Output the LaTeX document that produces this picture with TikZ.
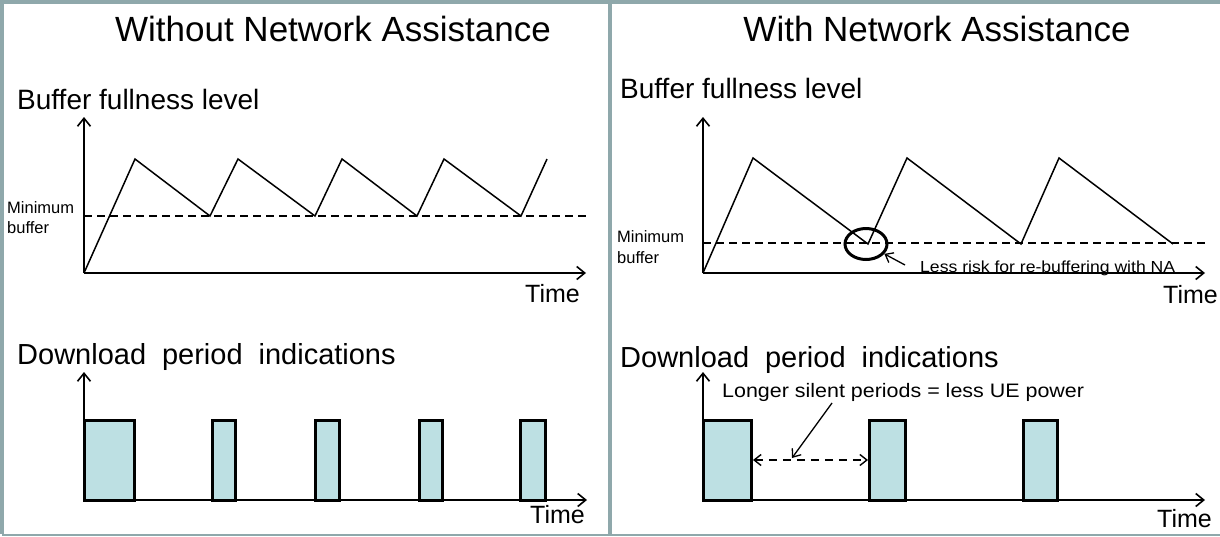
\documentclass[tikz,border=0pt]{standalone}
\usepackage{fontspec}
\setmainfont{Liberation Sans}
\newfontfamily\widesans[FakeStretch=1.1]{Liberation Sans}
\usetikzlibrary{arrows.meta,shapes.geometric}
\definecolor{framecol}{RGB}{143,168,171}
\definecolor{boxfill}{RGB}{189,224,227}
\newcommand{\widerspaces}{\spaceskip=0.55em plus 0.1em\relax}
\begin{document}
\begin{tikzpicture}[x=1pt,y=-1pt,
  txt/.style={inner sep=0pt, anchor=base west},
  titletxt/.style={inner sep=0pt, anchor=base, font=\fontsize{35}{40}\selectfont},
  head/.style={txt, font=\fontsize{28}{32}\selectfont},
  dlhead/.style={txt, font=\fontsize{29}{32}\selectfont, execute at begin node=\widerspaces},
  timelbl/.style={txt, font=\fontsize{25}{28}\selectfont},
  minlbl/.style={txt, font=\fontsize{16.5}{18}\selectfont},
  note/.style={txt, font=\widesans\fontsize{16}{18}\selectfont},
  axis/.style={line width=1.6pt, -{Straight Barb[length=8pt,width=13pt]}},
  saw/.style={line width=1.5pt, line join=miter},
  minline/.style={line width=1.5pt, dash pattern=on 8pt off 5pt},
  dlbox/.style={draw, line width=3pt, fill=boxfill, minimum height=80pt, inner sep=0pt, anchor=south},
  pointer/.style={line width=1.3pt, -{Straight Barb[length=7pt,width=11pt]}},
]
\useasboundingbox (0,0) rectangle (1220,536);
% frame
\draw[framecol, line width=3.5pt] (1224,2) -- (2,2) -- (2,534);
\draw[framecol, line width=2pt] (2,534.5) -- (1224,534.5);
\draw[framecol, line width=4pt] (610,2) -- (610,534);

% ===== Left panel =====
\node[titletxt] (tL) at (333,41) {Without Network Assistance};
\node[head] (bL) at (17,109) {Buffer fullness level};
\coordinate (oL) at (84,273);
\coordinate (yL) at (84,117);
\coordinate (xL) at (586,273);
\draw[axis] (oL) -- (yL);
\draw[axis] (oL) -- (xL);
\node[timelbl] (tmL) at (525,302) {Time};
\draw[minline] (84,216) -- (587,216);
\draw[saw] (oL) -- (135,159) -- (210,216) -- (238,159) -- (315,216) -- (342,159)
  -- (417,216) -- (444,159) -- (521,216) -- (547,159);
\node[minlbl] (mL1) at (7,213) {Minimum};
\node[minlbl] (mL2) at (7,233) {buffer};

\node[dlhead] (dL) at (17,364) {Download period indications};
\coordinate (oL2) at (84,500);
\coordinate (yL2) at (84,372);
\coordinate (xL2) at (587,500);
\node[dlbox, minimum width=50pt] (lb1) at (109.5,501.5) {};
\node[dlbox, minimum width=23pt] (lb2) at (224,501.5) {};
\node[dlbox, minimum width=24pt] (lb3) at (327.5,501.5) {};
\node[dlbox, minimum width=23pt] (lb4) at (431,501.5) {};
\node[dlbox, minimum width=25pt] (lb5) at (533,501.5) {};
\draw[axis] (oL2) -- (yL2);
\draw[axis] (oL2) -- (xL2);
\node[timelbl] (tmL2) at (530,523) {Time};

% ===== Right panel =====
\node[titletxt] (tR) at (937,41) {With Network Assistance};
\node[head] (bR) at (620,98) {Buffer fullness level};
\coordinate (oR) at (703,273);
\coordinate (yR) at (703,117);
\coordinate (xR) at (1205,273);
\draw[axis] (oR) -- (yR);
\draw[axis] (oR) -- (xR);
\node[timelbl] (tmR) at (1163,303) {Time};
\draw[minline] (703,243) -- (1207,243);
\draw[saw] (oR) -- (753,158) -- (868,244) -- (907,158) -- (1021,244) -- (1059,158) -- (1173,244);
\node[minlbl] (mR1) at (617,242) {Minimum};
\node[minlbl] (mR2) at (617,263) {buffer};
\node[draw, ellipse, line width=3pt, minimum width=42pt, minimum height=31pt, inner sep=0pt] (circ) at (866,244) {};
\node[note] (risk) at (920,272) {Less risk for re-buffering with NA};
\coordinate (riskTail) at (905,265);
\draw[pointer] (riskTail) -- (circ);

\node[dlhead] (dR) at (620,367) {Download period indications};
\coordinate (oR2) at (703,500);
\coordinate (yR2) at (703,372);
\coordinate (xR2) at (1205,500);
\node[dlbox, minimum width=48pt] (rb1) at (727.5,501.5) {};
\node[dlbox, minimum width=36pt] (rb2) at (887.5,501.5) {};
\node[dlbox, minimum width=34pt] (rb3) at (1040.5,501.5) {};
\draw[axis] (oR2) -- (yR2);
\draw[axis] (oR2) -- (xR2);
\node[timelbl] (tmR2) at (1157,527) {Time};

\node[txt, font=\widesans\fontsize{19.5}{22}\selectfont] (silent) at (722,397) {Longer silent periods = less UE power};
\draw[line width=1.4pt, dash pattern=on 8pt off 6pt,
  {Straight Barb[length=7pt,width=11pt]}-{Straight Barb[length=7pt,width=11pt]}] (rb1.east) -- (rb2.west);
\coordinate (silTail) at (832,403);
\coordinate (silTip) at (792,458);
\draw[pointer] (silTail) -- (silTip);
\end{tikzpicture}
\end{document}
